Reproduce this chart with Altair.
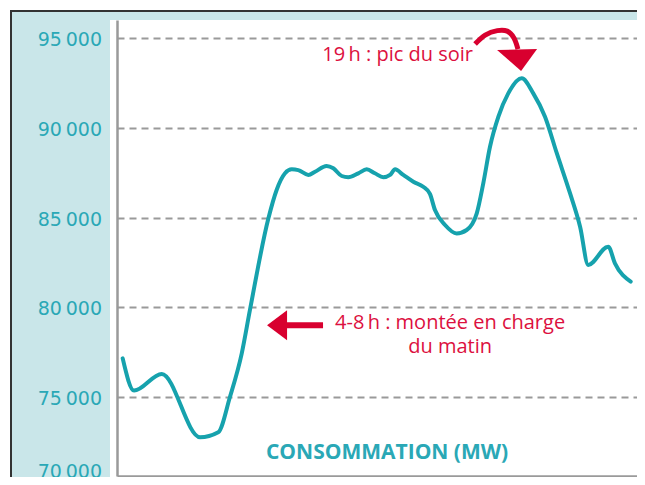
import altair as alt
import pandas as pd

# ---- data ----
hours = [0, 0.54, 1.86, 3.68, 4.55, 5.11, 5.67, 6.06, 6.93, 7.33, 7.73, 8.05, 8.36, 8.84, 9.16,
         9.71, 10.03, 10.43, 10.74, 11.22, 11.62, 12.01, 12.41, 12.73, 12.97, 13.36, 13.84, 14.31,
         14.63, 14.87, 15.35, 15.9, 16.38, 16.86, 17.17, 17.49, 17.89, 18.36, 19.0, 19.55, 20.11,
         20.67, 21.3, 21.78, 22.17, 23.12, 23.44, 24.19]
mw = [77150, 75350, 76280, 72750, 73030, 75010, 77430, 79850, 84920, 86540, 87470, 87690, 87650,
      87380, 87560, 87880, 87750, 87320, 87250, 87470, 87690, 87470, 87250, 87380, 87690, 87380,
      87000, 86720, 86320, 85420, 84590, 84120, 84310, 85240, 86910, 88950, 90630, 91930, 92770,
      91930, 90630, 88590, 86360, 84490, 82360, 83380, 82450, 81430]
y_ticks = [75000, 80000, 85000, 90000, 95000]
y_bottom_tick = [70000]

series_title = "CONSOMMATION (MW)"
note_evening = "19\u2009h : pic du soir"
note_morning = "4-8\u2009h : montée en charge\ndu matin"

# annotation anchors, in data units (hour, MW)
evening_text = {"h": [16.68], "v": [94070], "t": [note_evening]}
morning_text = {"h": [15.59], "v": [79120], "t": [note_morning]}
title_text = {"h": [12.59], "v": [71870], "t": [series_title]}
curve_h = [16.78, 17.26, 17.84, 18.31, 18.63, 18.82]
curve_v = [94680, 95180, 95430, 95400, 95020, 94400]
curve_head = {"h": [18.78], "v": [93790]}
left_shaft = {"h": [7.63], "h2": [9.54], "v": [79000]}
left_head = {"h": [7.35], "v": [79000]}

TEAL = "#16a2ad"
LABEL_TEAL = "#2aa8b6"
RED = "#d8002f"
TEXT_RED = "#dc1040"
BLUE_BG = "#c9e6e9"

W, H = 520, 456
xs = alt.Scale(domain=[-0.271, 24.49], nice=False, zero=False)
ys = alt.Scale(domain=[70588, 96021], nice=False, zero=False)

df = pd.DataFrame({"h": hours, "v": mw})
one = pd.DataFrame({"a": [0]})

x_enc = alt.X("h:Q", scale=xs, axis=alt.Axis(title=None, labels=False, ticks=False, grid=False,
                                               domainColor="#9a9a9a", domainWidth=2.5))
y_enc = alt.Y("v:Q", scale=ys, axis=alt.Axis(
    title=None, values=y_ticks, ticks=False, labels=False, grid=True, gridColor="#9a9a9a",
    gridDash=[7, 5], gridWidth=2, domainColor="#9a9a9a", domainWidth=2.5))

# decorative frame: light-blue band on the left and top, dark border line
blue_left = alt.Chart(one).mark_rect(color=BLUE_BG).encode(
    x=alt.value(-105), x2=alt.value(-7), y=alt.value(-8), y2=alt.value(H + 2))
blue_top = alt.Chart(one).mark_rect(color=BLUE_BG).encode(
    x=alt.value(-7), x2=alt.value(W), y=alt.value(-8), y2=alt.value(0))
border_top = alt.Chart(one).mark_rule(color="#333333", strokeWidth=2).encode(
    x=alt.value(-107), x2=alt.value(W + 10), y=alt.value(-9))
border_left = alt.Chart(one).mark_rule(color="#333333", strokeWidth=2).encode(
    x=alt.value(-106), y=alt.value(-10), y2=alt.value(H + 2))

fmt = "replace(format(datum.v, ',d'), ',', '\u2009')"
tick_labels = alt.Chart(pd.DataFrame({"v": y_ticks})).transform_calculate(lab=fmt).mark_text(
    align="right", baseline="middle", font="DejaVu Sans", fontSize=19, color=LABEL_TEAL, dy=2
).encode(x=alt.value(-15), y=alt.Y("v:Q", scale=ys), text="lab:N")
bottom_label = alt.Chart(pd.DataFrame({"v": y_bottom_tick})).transform_calculate(lab=fmt).mark_text(
    align="right", baseline="middle", font="DejaVu Sans", fontSize=19, color=LABEL_TEAL, dy=-15
).encode(x=alt.value(-15), y=alt.Y("v:Q", scale=ys), text="lab:N")

line = alt.Chart(df).mark_line(color=TEAL, strokeWidth=4, interpolate="monotone",
                               strokeCap="round", strokeJoin="round").encode(x=x_enc, y=y_enc)

t_even = alt.Chart(pd.DataFrame(evening_text)).mark_text(
    align="right", baseline="middle", font="Open Sans", fontSize=20, color=TEXT_RED
).encode(x="h:Q", y="v:Q", text="t:N")
t_morn = alt.Chart(pd.DataFrame(morning_text)).mark_text(
    align="center", baseline="middle", font="Open Sans", fontSize=20, color=TEXT_RED,
    lineBreak="\n", lineHeight=24
).encode(x="h:Q", y="v:Q", text="t:N")
t_title = alt.Chart(pd.DataFrame(title_text)).mark_text(
    align="center", baseline="middle", font="Open Sans", fontSize=21, fontWeight="bold",
    color=LABEL_TEAL
).encode(x="h:Q", y="v:Q", text="t:N")

curve = alt.Chart(pd.DataFrame({"h": curve_h, "v": curve_v})).mark_line(
    color=RED, strokeWidth=5, interpolate="cardinal", strokeCap="butt"
).encode(x="h:Q", y="v:Q")
curve_tip = alt.Chart(pd.DataFrame(curve_head)).mark_point(
    shape="M-1,-0.5L1,-0.55L0.2,0.55Z", size=1600, filled=True, opacity=1,
    color=RED, strokeWidth=0
).encode(x="h:Q", y="v:Q")
shaft = alt.Chart(pd.DataFrame(left_shaft)).mark_rule(color=RED, strokeWidth=6).encode(
    x="h:Q", x2="h2:Q", y="v:Q")
shaft_tip = alt.Chart(pd.DataFrame(left_head)).mark_point(
    shape="M-0.667,0L0.667,-1L0.667,1Z", size=900, filled=True, opacity=1,
    color=RED, strokeWidth=0
).encode(x="h:Q", y="v:Q")

chart = alt.layer(
    blue_left, blue_top, border_top, border_left, tick_labels, bottom_label,
    line, t_title, t_morn, t_even, curve, curve_tip, shaft, shaft_tip
).properties(
    width=W, height=H,
    autosize=alt.AutoSizeParams(type="none"),
    padding={"left": 109, "top": 12, "right": 0, "bottom": 1},
    background="white",
    view=alt.ViewBackground(fill="white", stroke="white", strokeOpacity=0, strokeWidth=0),
).configure_view(fill="white", stroke="white", strokeOpacity=0, strokeWidth=0)

chart.save("out.html", embed_options={"renderer": "svg", "actions": False})
